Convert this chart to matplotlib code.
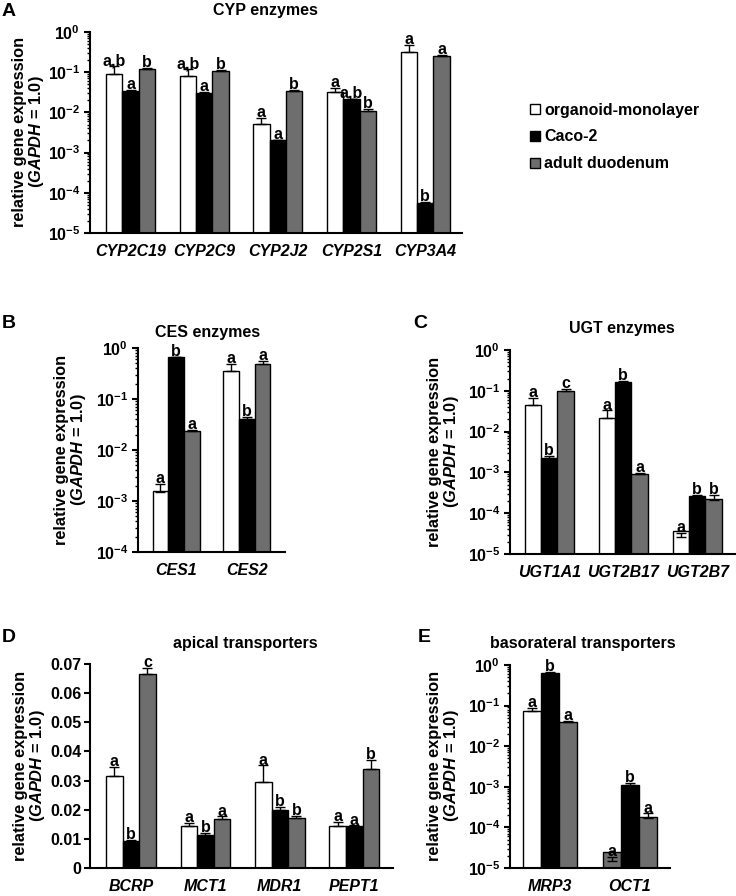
import matplotlib
matplotlib.use("Agg")
import matplotlib.pyplot as plt
from matplotlib.patches import Patch
from matplotlib.ticker import LogLocator, FixedLocator, FixedFormatter, NullFormatter
import numpy as np

plt.rcParams['font.family'] = ['Liberation Sans', 'DejaVu Sans']
plt.rcParams['font.weight'] = 'bold'
plt.rcParams['axes.labelweight'] = 'bold'
plt.rcParams['mathtext.fontset'] = 'custom'
plt.rcParams['mathtext.rm'] = 'Liberation Sans:bold'
plt.rcParams['mathtext.bf'] = 'Liberation Sans:bold'
plt.rcParams['mathtext.it'] = 'Liberation Sans:italic:bold'

groups = ['organoid-monolayer', 'Caco-2', 'adult duodenum']
colors = ['white', 'black', '#6e6e6e']

# A - CYP enzymes
cyp_genes = ['CYP2C19', 'CYP2C9', 'CYP2J2', 'CYP2S1', 'CYP3A4']
cyp_mean = [[0.088, 0.035, 0.12], [0.081, 0.030, 0.11], [0.0051, 0.0020, 0.035],
            [0.033, 0.021, 0.011], [0.32, 4.6e-5, 0.26]]
cyp_sd = [[0.052, 0.002, 0.005], [0.039, 0.002, 0.003], [0.0021, 0.0001, 0.001],
          [0.008, 0.001, 0.001], [0.15, 1.3e-5, 0.01]]
cyp_sig = [['a,b', 'a', 'b'], ['a,b', 'a', 'b'], ['a', 'a', 'b'], ['a', 'a,b', 'b'], ['a', 'b', 'a']]

# B - CES enzymes
ces_genes = ['CES1', 'CES2']
ces_mean = [[1.5e-3, 0.66, 0.024], [0.36, 0.041, 0.49]]
ces_sd = [[7e-4, 0.02, 0.001], [0.13, 0.003, 0.06]]
ces_sig = [['a', 'b', 'a'], ['a', 'b', 'a']]

# C - UGT enzymes
ugt_genes = ['UGT1A1', 'UGT2B17', 'UGT2B7']
ugt_mean = [[0.045, 2.3e-3, 0.10], [0.022, 0.16, 9e-4], [2.6e-5, 2.6e-4, 2.1e-4]]
ugt_sd = [[0.021, 0.0002, 0.012], [0.011, 0.01, 0.00005], [0.7e-5, 0.2e-4, 0.7e-4]]
ugt_sig = [['a', 'b', 'c'], ['a', 'b', 'a'], ['a', 'b', 'b']]

# D - apical transporters
api_genes = ['BCRP', 'MCT1', 'MDR1', 'PEPT1']
api_mean = [[0.0314, 0.0094, 0.0664], [0.0145, 0.0114, 0.0169],
            [0.0295, 0.0199, 0.0171], [0.0143, 0.0143, 0.0338]]
api_sd = [[0.0034, 0.0003, 0.0021], [0.0011, 0.0006, 0.0008],
          [0.0057, 0.0012, 0.0008], [0.0014, 0.0003, 0.0032]]
api_sig = [['a', 'b', 'c'], ['a', 'b', 'a'], ['a', 'b', 'b'], ['a', 'a', 'b']]

# E - basolateral transporters
baso_genes = ['MRP3', 'OCT1']
baso_mean = [[0.075, 0.64, 0.040], [1.46e-5, 1.1e-3, 1.66e-4]]
baso_sd = [[0.011, 0.02, 0.002], [0.45e-5, 0.13e-3, 0.55e-4]]
baso_sig = [['a', 'b', 'a'], ['a', 'b', 'a']]
baso_colors = [colors, ['#6e6e6e', 'black', '#6e6e6e']]  # first OCT1 bar is grey in the original

W, H = 736, 896
fig = plt.figure(figsize=(W / 100, H / 100), dpi=100)


def px_axes(left, right, top, bottom):
    return fig.add_axes([left / W, 1 - bottom / H, (right - left) / W, (bottom - top) / H])


def draw_panel(ax, genes, mean, sd, sig, xlim, log=True, ymin=1e-5, bar_colors=None, width=0.222):
    x = np.arange(len(genes))
    for j in range(3):
        for i in range(len(genes)):
            c = bar_colors[i][j] if bar_colors else colors[j]
            xi = x[i] + (j - 1) * width
            ax.bar(xi, mean[i][j], width, bottom=(ymin if log else 0), color=c,
                   edgecolor='black', linewidth=1.0, zorder=2)
            ax.errorbar(xi, mean[i][j], yerr=[[0], [sd[i][j]]], fmt='none', ecolor='black',
                        elinewidth=1.0, capsize=3.5, capthick=1.0, zorder=3)
            ax.annotate(sig[i][j], (xi, mean[i][j] + sd[i][j]), xytext=(0, -1.5),
                        textcoords='offset points', ha='center', va='bottom',
                        fontsize=11.5, fontweight='bold', zorder=4)
    ax.set_xlim(*xlim)
    ax.set_xticks(x)
    ax.set_xticklabels(genes, fontsize=11.5, fontweight='bold', style='italic')
    ax.tick_params(axis='x', length=0, pad=8)
    if log:
        ax.set_yscale('log')
        ax.set_ylim(ymin, 1)
        ax.yaxis.set_major_locator(LogLocator(base=10, numticks=20))
        ax.yaxis.set_minor_locator(LogLocator(base=10, subs=np.arange(2, 10), numticks=20))
        ax.yaxis.set_minor_formatter(NullFormatter())
        ax.yaxis.set_major_formatter(plt.FuncFormatter(lambda v, p: r'$10^{%d}$' % round(np.log10(v))))
    for s in ['top', 'right']:
        ax.spines[s].set_visible(False)
    for s in ['left', 'bottom']:
        ax.spines[s].set_linewidth(1.5)
    ax.tick_params(axis='y', which='major', direction='out', length=4, width=1.5, labelsize=11.5, pad=3)
    ax.tick_params(axis='y', which='minor', direction='out', length=2.5, width=1.0)
    for t in ax.get_yticklabels():
        t.set_fontweight('bold')


def ylabel(xc, yc):
    fig.text(xc / W, 1 - yc / H, 'relative gene expression\n($\\mathit{GAPDH}$ = 1.0)',
             rotation=90, ha='center', va='center', multialignment='center',
             fontsize=11.8, fontweight='bold', linespacing=1.0)


def panel_title(xc, yc, s):
    fig.text(xc / W, 1 - yc / H, s, ha='center', va='center', fontsize=11.5, fontweight='bold')


def panel_letter(xc, yc, s):
    fig.text(xc / W, 1 - yc / H, s, ha='left', va='center', fontsize=14, fontweight='bold')


# A
axA = px_axes(90, 462, 32, 233)
draw_panel(axA, cyp_genes, cyp_mean, cyp_sd, cyp_sig, (-0.55, 4.5))
panel_title(265, 10, 'CYP enzymes')
panel_letter(2, 12, 'A')
ylabel(29, 132)

# B
axB = px_axes(138, 285, 348, 552)
draw_panel(axB, ces_genes, ces_mean, ces_sd, ces_sig, (-0.54, 1.54), ymin=1e-4)
panel_title(208, 333, 'CES enzymes')
panel_letter(2, 323, 'B')
ylabel(71, 450)

# C
axC = px_axes(510, 735, 350, 554)
draw_panel(axC, ugt_genes, ugt_mean, ugt_sd, ugt_sig, (-0.53, 2.51))
panel_title(622, 328, 'UGT enzymes')
panel_letter(413, 323, 'C')
ylabel(444, 452)

# D
axD = px_axes(90, 393, 664, 868)
draw_panel(axD, api_genes, api_mean, api_sd, api_sig, (-0.55, 3.52), log=False)
axD.set_ylim(0, 0.07)
axD.yaxis.set_major_locator(FixedLocator(np.arange(0, 0.0701, 0.01)))
axD.yaxis.set_major_formatter(FixedFormatter(['0', '0.01', '0.02', '0.03', '0.04', '0.05', '0.06', '0.07']))
axD.tick_params(axis='y', which='major', pad=2)
panel_title(245, 643, 'apical transporters')
panel_letter(2, 637, 'D')
ylabel(30, 766)

# E
axE = px_axes(510, 670, 665, 868)
draw_panel(axE, baso_genes, baso_mean, baso_sd, baso_sig, (-0.5, 1.5), bar_colors=baso_colors,
           width=0.225)
panel_title(583, 643, 'basorateral transporters')
panel_letter(418, 637, 'E')
ylabel(444, 766)

handles = [Patch(facecolor=c, edgecolor='black', linewidth=1.0) for c in colors]
fig.legend(handles, groups, loc='center left', bbox_to_anchor=(522 / W, 1 - 137 / H),
           frameon=False, handlelength=0.6, handleheight=0.6,
           handletextpad=0.3, labelspacing=0.75, borderpad=0,
           prop={'weight': 'bold', 'size': 11.5})

fig.savefig('out.png', dpi=100)
